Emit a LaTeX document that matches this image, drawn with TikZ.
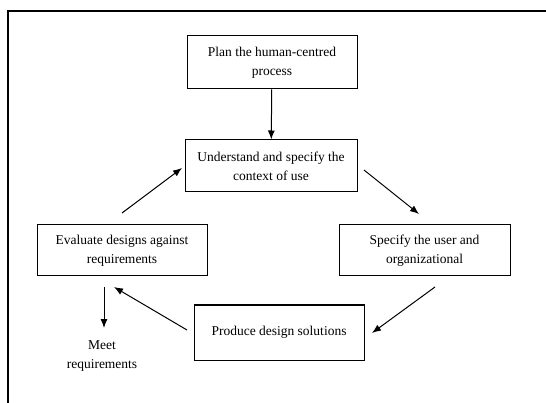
\documentclass[tikz,border=0pt]{standalone}
\usepackage{fontspec}
\setmainfont{Liberation Serif}
\usetikzlibrary{arrows.meta,positioning}

\begin{document}
\begin{tikzpicture}[
x=1pt, y=-1pt, font=\fontsize{13.5}{19}\selectfont,
box/.style={draw=black, line width=1pt, align=center, inner sep=2pt},
flow/.style={-{Latex[length=9pt,width=7pt]}, line width=1pt},
]
\useasboundingbox (0,0) rectangle (546,403);
\draw[line width=1.2pt] (8,403) -- (8,11) -- (546,11);

\node[box, minimum width=170, minimum height=53] (plan) at (272,62.5) {Plan the human-centred\\process};
\node[box, minimum width=172, minimum height=52] (context) at (271,166) {Understand and specify the\\context of use};
\node[box, minimum width=170, minimum height=51] (evaluate) at (122,250.5) {Evaluate designs against\\requirements};
\node[box, minimum width=171, minimum height=51] (specify) at (424.5,250.5) {Specify the user and\\organizational};
\node[box, minimum width=170, minimum height=55] (produce) at (279,332.5) {Produce design solutions};
\node[align=center] (meet) at (102,356) {Meet\\requirements};

\coordinate (ev-out) at (122,213);
\coordinate (ctx-in) at (182,168);
\coordinate (ctx-out) at (364,170);
\coordinate (sp-in) at (419,214);
\coordinate (sp-out) at (435,287);
\coordinate (pr-in) at (372,333);
\coordinate (pr-out) at (187,330);
\coordinate (ev-in) at (114,287);
\coordinate (ev-down) at (104,287);
\coordinate (mt-in) at (104,328);

\draw[flow] (plan) -- (context);
\draw[flow] (ev-out) -- (ctx-in);
\draw[flow] (ctx-out) -- (sp-in);
\draw[flow] (sp-out) -- (pr-in);
\draw[flow] (pr-out) -- (ev-in);
\draw[flow] (ev-down) -- (mt-in);
%\draw[flow] (meet) -- (evaluate);

\end{tikzpicture}
\end{document}
